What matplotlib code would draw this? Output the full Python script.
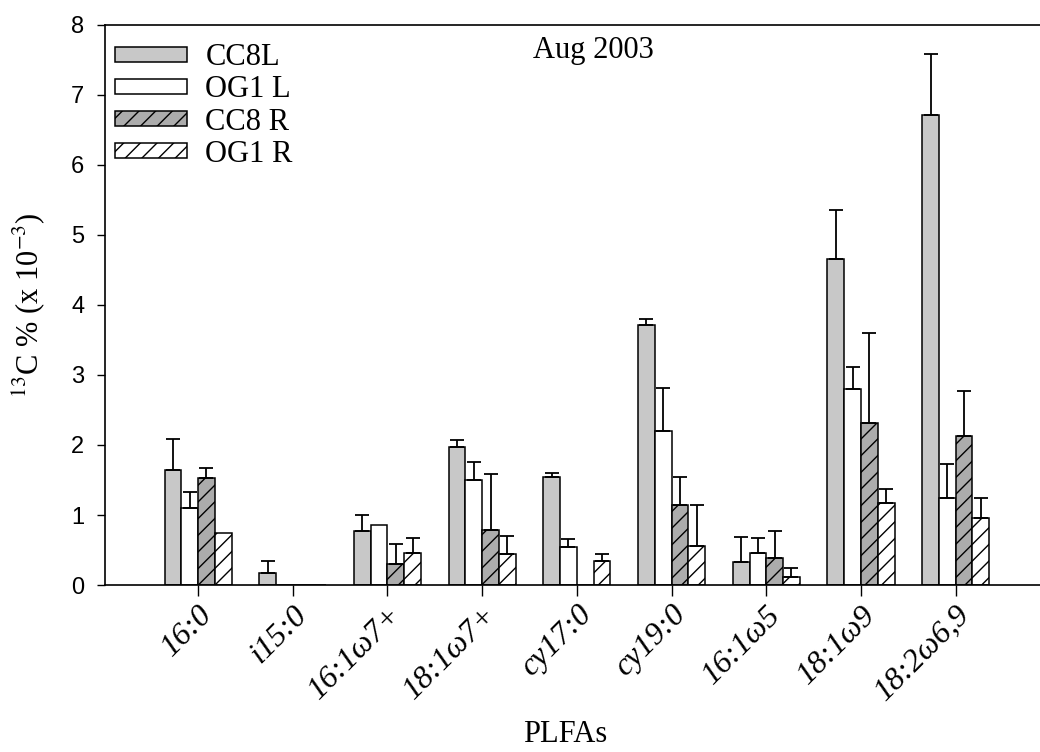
import numpy as np
import matplotlib
matplotlib.use('Agg')
import matplotlib.pyplot as plt

plt.rcParams['mathtext.fontset'] = 'stix'
plt.rcParams['hatch.linewidth'] = 1.0

plfas = ['16:0', 'i15:0', '16:1ω7+', '18:1ω7+', 'cy17:0', 'cy19:0', '16:1ω5', '18:1ω9', '18:2ω6,9']
series = ['CC8L', 'OG1 L', 'CC8 R', 'OG1 R']

cc8l = [1.64, 0.17, 0.77, 1.97, 1.54, 3.72, 0.33, 4.65, 6.71]
cc8l_err = [0.45, 0.17, 0.23, 0.10, 0.06, 0.08, 0.36, 0.71, 0.88]
og1l = [1.10, 0.0, 0.86, 1.50, 0.54, 2.20, 0.46, 2.80, 1.24]
og1l_err = [0.23, 0.0, 0.0, 0.26, 0.12, 0.61, 0.21, 0.31, 0.49]
cc8r = [1.53, 0.0, 0.30, 0.79, 0.0, 1.14, 0.38, 2.31, 2.13]
cc8r_err = [0.14, 0.0, 0.29, 0.80, 0.0, 0.40, 0.39, 1.29, 0.64]
og1r = [0.74, 0.0, 0.46, 0.44, 0.35, 0.56, 0.12, 1.17, 0.96]
og1r_err = [0.0, 0.0, 0.21, 0.26, 0.10, 0.58, 0.12, 0.20, 0.28]

values = [cc8l, og1l, cc8r, og1r]
errors = [cc8l_err, og1l_err, cc8r_err, og1r_err]
fills = ['#c8c8c8', 'white', '#acacac', 'white']
hatches = [None, None, '//', '//']

fig = plt.figure(figsize=(10.4, 7.52), dpi=100)
ax = fig.add_axes([0.101, 0.222, 0.899, 0.745])

x = np.arange(1, len(plfas) + 1)
w = 0.177
for i in range(len(series)):
    pos = x + (i - 1.5) * w
    ax.bar(pos, values[i], width=w, color=fills[i], edgecolor='black',
           linewidth=1.1, hatch=hatches[i], label=series[i], zorder=2)
    v = np.array(values[i])
    e = np.array(errors[i])
    m = e > 0
    # upper error bars only
    ax.errorbar(pos[m], v[m], yerr=[np.zeros(m.sum()), e[m]], fmt='none',
                ecolor='black', elinewidth=1.3, capsize=5, capthick=1.3, zorder=3)

ax.set_xlim(0.018, 9.89)
ax.set_ylim(0, 8)
ax.spines['right'].set_visible(False)
for s in ['left', 'bottom', 'top']:
    ax.spines[s].set_linewidth(1.2)

ax.set_yticks(range(0, 9))
ax.tick_params(axis='y', direction='out', length=6, width=1, pad=9)
for t in ax.get_yticklabels():
    t.set_fontfamily('Liberation Sans')
    t.set_fontsize(17)

ax.set_xticks(x)
ax.set_xticklabels(plfas, rotation=45, ha='right', va='top',
                   rotation_mode='anchor', fontfamily='Liberation Serif',
                   fontstyle='italic', fontsize=23)
ax.tick_params(axis='x', direction='out', length=8, width=1, pad=3)

ax.text(5.18, 7.63, 'Aug 2003', ha='center', va='center',
        fontfamily='Liberation Serif', fontsize=22)

leg = ax.legend(loc='upper left', bbox_to_anchor=(-0.012, 1.005), frameon=False,
                prop={'family': 'Liberation Serif', 'size': 22},
                handlelength=2.35, handleheight=0.38, handletextpad=0.6,
                labelspacing=0.1, borderaxespad=0.3)

fig.text(29 / 1040, 1 - 305 / 752, r'$^{13}$C % (x 10$^{-3}$)', rotation=90,
         ha='center', va='center', fontfamily='Liberation Serif', fontsize=22)
fig.text(565 / 1040, 1 - 735 / 752, 'PLFAs', ha='center', va='center',
         fontfamily='Liberation Serif', fontsize=22)

fig.savefig('out.png', dpi=100)
